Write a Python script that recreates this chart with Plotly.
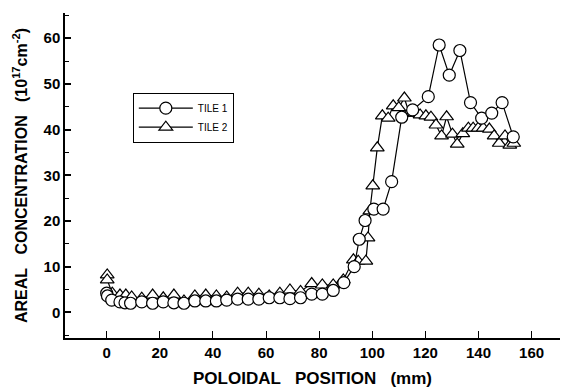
import plotly.graph_objects as go

tile1_x = [0, 0.3, 1.9, 5.0, 6.9, 9.0, 13.2, 17.3, 21.3, 25.3, 29.1, 33.2, 37.3, 41.3,
           45.2, 49.3, 53.3, 57.3, 61.2, 65.2, 69.0, 73.0, 77.2, 81.2, 85.3, 89.3, 93.2,
           95.1, 97.3, 100.6, 104.1, 107.3, 111.1, 115.2, 121.1, 125.2, 129.0, 133.0,
           137.0, 141.2, 145.0, 148.9, 153.1]
tile1_y = [4.2, 3.6, 2.7, 2.3, 2.1, 2.0, 2.3, 2.0, 2.3, 2.1, 2.0, 2.5, 2.5, 2.5,
           2.7, 2.9, 2.9, 2.9, 3.2, 3.2, 3.0, 3.2, 4.0, 4.0, 4.8, 6.5, 10.0,
           16.0, 20.1, 22.6, 22.6, 28.6, 42.7, 44.3, 47.2, 58.5, 51.9, 57.3,
           45.9, 42.5, 43.6, 45.9, 38.4]

tile2_x = [0.2, 0.2, 2.1, 5.0, 7.2, 9.4, 13.2, 17.3, 21.3, 25.3, 29.1, 33.2, 37.3, 41.3,
           45.2, 49.3, 53.3, 57.3, 61.2, 65.2, 69.0, 73.0, 77.2, 81.2, 85.3, 89.1, 92.9,
           94.7, 97.6, 98.4, 99.1, 100.2, 101.9, 103.8, 106.0, 107.9, 110.0, 112.1, 113.9,
           116.1, 118.0, 120.2, 122.1, 124.0, 126.1, 128.0, 130.2, 132.0, 134.1, 136.2,
           138.0, 139.9, 141.8, 144.1, 145.9, 147.8, 150.0, 151.8, 153.3]
tile2_y = [8.2, 7.1, 4.2, 3.8, 3.8, 3.4, 3.1, 3.8, 3.2, 3.8, 2.5, 3.6, 3.8, 3.6,
           3.4, 4.2, 4.2, 4.0, 3.6, 4.2, 4.9, 4.6, 6.3, 6.0, 6.0, 7.1, 11.5,
           11.2, 11.2, 16.3, 22.2, 27.7, 36.0, 43.0, 42.5, 45.2, 44.8, 46.9, 43.6,
           43.6, 43.2, 43.0, 42.7, 41.0, 38.6, 42.8, 39.0, 36.8, 39.1, 40.3,
           40.3, 40.3, 40.3, 40.1, 38.6, 37.0, 38.6, 36.6, 37.0]

x_ticks = [0, 20, 40, 60, 80, 100, 120, 140, 160]
y_ticks = [0, 10, 20, 30, 40, 50, 60]

FONT = "Liberation Sans, Arial"

fig = go.Figure()
fig.add_trace(go.Scatter(
    x=tile2_x, y=tile2_y, mode="lines+markers", name="TILE 2",
    line=dict(color="black", width=1.2),
    marker=dict(symbol="triangle-up", size=12, color="white",
                line=dict(color="black", width=1.2))))
fig.add_trace(go.Scatter(
    x=tile1_x, y=tile1_y, mode="lines+markers", name="TILE 1",
    line=dict(color="black", width=1.2),
    marker=dict(symbol="circle", size=12, color="white",
                line=dict(color="black", width=1.2))))

tick_font = dict(family=FONT, size=15, color="black", weight="bold")
title_font = dict(family=FONT, size=17, color="black", weight="bold")
ytitle_font = dict(family=FONT, size=16, color="black", weight="bold")

fig.update_layout(
    width=562, height=388,
    margin=dict(l=65, r=2, t=13, b=50),
    paper_bgcolor="white", plot_bgcolor="white",
    showlegend=True,
    legend=dict(x=0.137, y=0.755, xanchor="left", yanchor="top",
                bgcolor="white", bordercolor="black", borderwidth=1,
                font=dict(family=FONT, size=10, color="black"),
                traceorder="reversed", itemwidth=54, tracegroupgap=0),
    xaxis=dict(range=[-15.7, 170.7], tickvals=x_ticks, ticks="inside", ticklen=7,
               tickwidth=1, tickcolor="black", showline=True, linecolor="black",
               linewidth=1.5, showgrid=False, zeroline=False, tickfont=tick_font,
               automargin=False,
               title=dict(text="POLOIDAL&nbsp;&nbsp; POSITION&nbsp;&nbsp; (mm)", standoff=12,
                          font=title_font)),
    yaxis=dict(range=[-5.6, 65.5], tickvals=y_ticks, ticks="inside", ticklen=6,
               tickwidth=2, tickcolor="black", showline=True, linecolor="black",
               linewidth=1.5, showgrid=False, zeroline=False, tickfont=tick_font,
               automargin=False,
               minor=dict(dtick=5, tick0=0, ticks="inside", ticklen=4, tickwidth=1,
                          tickcolor="black", showgrid=False),
               title=dict(text="AREAL&nbsp;&nbsp; CONCENTRATION&nbsp;&nbsp; (10<sup>17</sup>cm<sup>-2</sup>)",
                          standoff=12, font=ytitle_font)),
)

fig.write_html("out.html", config={"displayModeBar": False},
               post_script="document.body.style.margin='0';document.body.style.overflow='hidden';")
